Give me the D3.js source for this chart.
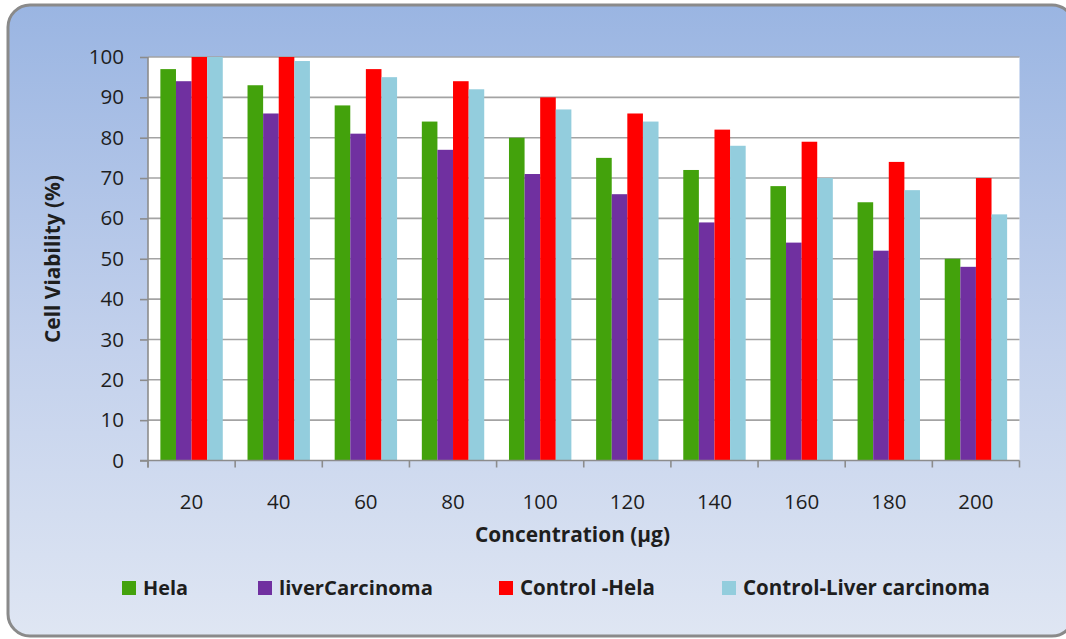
<!DOCTYPE html>
<html>
<head>
<meta charset="utf-8">
<script src="https://cdn.jsdelivr.net/npm/d3@7"></script>
<style>
  html, body { margin: 0; padding: 0; background: #ffffff; }
  svg { display: block; }
  text { font-family: "Open Sans", "Noto Sans", sans-serif; fill: #1e1e1e; }
</style>
</head>
<body>
<svg id="chart" width="1066" height="639"></svg>
<script>
// Concentrations tested (µg)
const concentrations = ["20", "40", "60", "80", "100", "120", "140", "160", "180", "200"];

// Cell viability (%) for each series at each concentration
const hela            = [97, 93, 88, 84, 80, 75, 72, 68, 64, 50];
const liverCarcinoma  = [94, 86, 81, 77, 71, 66, 59, 54, 52, 48];
const controlHela     = [100, 100, 97, 94, 90, 86, 82, 79, 74, 70];
const controlLiver    = [100, 99, 95, 92, 87, 84, 78, 70, 67, 61];

const seriesNames  = ["Hela", "liverCarcinoma", "Control -Hela", "Control-Liver carcinoma"];
const seriesColors = ["#43a20c", "#7030a0", "#ff0000", "#93cddd"];
const yTicks = [0, 10, 20, 30, 40, 50, 60, 70, 80, 90, 100];

const seriesValues = [hela, liverCarcinoma, controlHela, controlLiver];

const svg = d3.select("#chart");

// Panel background with rounded border
const defs = svg.append("defs");
const grad = defs.append("linearGradient")
  .attr("id", "panelGrad").attr("x1", 0).attr("y1", 0).attr("x2", 0).attr("y2", 1);
grad.append("stop").attr("offset", "0%").attr("stop-color", "#9ab5e2");
grad.append("stop").attr("offset", "55%").attr("stop-color", "#c3d1ec");
grad.append("stop").attr("offset", "100%").attr("stop-color", "#dfe6f3");

svg.append("rect")
  .attr("x", 8).attr("y", 5)
  .attr("width", 1066).attr("height", 631)
  .attr("rx", 22).attr("ry", 22)
  .attr("fill", "url(#panelGrad)")
  .attr("stroke", "#8a8a8a").attr("stroke-width", 3);

// Plot area
const plot = { left: 148, right: 1019.5, top: 57, bottom: 460.5 };

svg.append("rect")
  .attr("x", plot.left).attr("y", plot.top)
  .attr("width", plot.right - plot.left).attr("height", plot.bottom - plot.top)
  .attr("fill", "#ffffff");

const x0 = d3.scaleBand()
  .domain(concentrations)
  .range([plot.left, plot.right])
  .padding(0);

const bw = x0.bandwidth();
const x1 = d3.scaleBand()
  .domain(d3.range(seriesNames.length))
  .range([bw * 0.142, bw * 0.858])
  .padding(0);

const y = d3.scaleLinear().domain([0, 100]).range([plot.bottom, plot.top]);

// Horizontal gridlines
svg.append("g")
  .selectAll("line")
  .data(yTicks.filter(t => t > 0))
  .join("line")
  .attr("x1", plot.left).attr("x2", plot.right)
  .attr("y1", d => y(d)).attr("y2", d => y(d))
  .attr("stroke", "#a3a3a3").attr("stroke-width", 1.6);

// Bars
const groups = svg.append("g")
  .selectAll("g")
  .data(concentrations)
  .join("g")
  .attr("transform", d => `translate(${x0(d)},0)`);

groups.selectAll("rect")
  .data((c, i) => seriesValues.map((vals, s) => ({ s, v: vals[i] })))
  .join("rect")
  .attr("x", d => x1(d.s))
  .attr("width", x1.bandwidth())
  .attr("y", d => y(d.v))
  .attr("height", d => y(0) - y(d.v))
  .attr("fill", d => seriesColors[d.s]);

// Y axis
const yAxis = svg.append("g")
  .attr("transform", `translate(${plot.left},0)`)
  .call(d3.axisLeft(y).tickValues(yTicks).tickSize(8).tickPadding(16).tickSizeOuter(0));
yAxis.select(".domain").attr("stroke", "#8c8c8c").attr("stroke-width", 1.6)
  .attr("d", `M0,${plot.top}V${plot.bottom + 7}`);
yAxis.selectAll(".tick line").attr("stroke", "#8c8c8c").attr("stroke-width", 1.6);
yAxis.selectAll(".tick text")
  .attr("font-size", 20.5)
  .attr("fill", "#222")
  .style("font-family", "'Open Sans', sans-serif");

// X axis: ticks at category boundaries, labels centred in each band
const xAxisG = svg.append("g").attr("transform", `translate(0,${plot.bottom})`);
xAxisG.append("line")
  .attr("x1", plot.left - 8).attr("x2", plot.right)
  .attr("y1", 0).attr("y2", 0)
  .attr("stroke", "#8c8c8c").attr("stroke-width", 1.6);
const boundaries = concentrations.map(c => x0(c)).concat([plot.right]);
xAxisG.selectAll("line.tk")
  .data(boundaries)
  .join("line").attr("class", "tk")
  .attr("x1", d => d).attr("x2", d => d)
  .attr("y1", 0).attr("y2", 7)
  .attr("stroke", "#8c8c8c").attr("stroke-width", 1.6);
xAxisG.selectAll("text")
  .data(concentrations)
  .join("text")
  .attr("x", d => x0(d) + bw / 2)
  .attr("y", 48)
  .attr("text-anchor", "middle")
  .attr("font-size", 20.5)
  .text(d => d);

// Fit a text element's font size to a target width
function fit(sel, width) {
  const node = sel.node();
  const fs = parseFloat(sel.attr("font-size"));
  const w = node.getComputedTextLength();
  sel.attr("font-size", fs * width / w);
  return sel;
}

// Axis titles
const xTitle = svg.append("text")
  .attr("x", 572.5).attr("y", 542)
  .attr("text-anchor", "middle")
  .attr("font-weight", "bold")
  .attr("font-size", 19)
  .text("Concentration (µg)");
fit(xTitle, 195);

const yTitle = svg.append("text")
  .attr("transform", "translate(60,259) rotate(-90)")
  .attr("text-anchor", "middle")
  .attr("font-weight", "bold")
  .attr("font-size", 19)
  .text("Cell Viability (%)");
fit(yTitle, 168);

// Legend
const legendItems = [
  { sq: 122, tx: 143, w: 45 },
  { sq: 258, tx: 279, w: 154 },
  { sq: 499, tx: 520, w: 135 },
  { sq: 722, tx: 743, w: 247 }
];
const legend = svg.append("g");
legendItems.forEach((it, i) => {
  legend.append("rect")
    .attr("x", it.sq).attr("y", 581)
    .attr("width", 14).attr("height", 14)
    .attr("fill", seriesColors[i]);
  const t = legend.append("text")
    .attr("x", it.tx).attr("y", 595)
    .attr("font-weight", "bold")
    .attr("font-size", 19)
    .text(seriesNames[i]);
  fit(t, it.w);
});
</script>
</body>
</html>
